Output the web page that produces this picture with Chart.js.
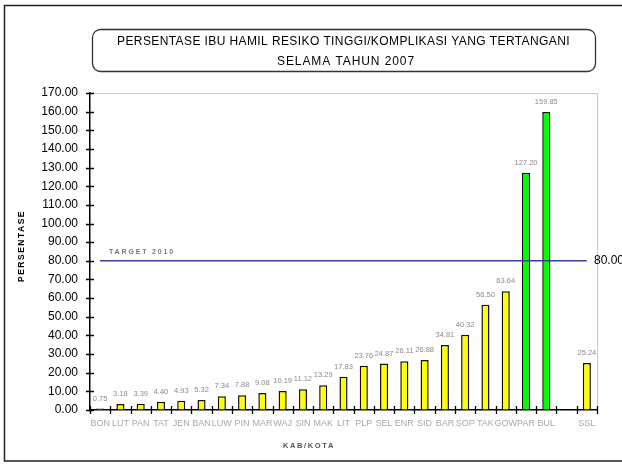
<!DOCTYPE html>
<html>
<head>
<meta charset="utf-8">
<script src="https://cdn.jsdelivr.net/npm/chart.js@4.4.1/dist/chart.umd.min.js"></script>
<style>
  html, body { margin: 0; padding: 0; background: #fff; }
  #wrap { width: 622px; height: 466px; }
</style>
</head>
<body>
<div id="wrap"><canvas id="chart" width="622" height="466"></canvas></div>
<script>
// data
var kabKota = ['BON', 'LUT', 'PAN', 'TAT', 'JEN', 'BAN', 'LUW', 'PIN', 'MAR', 'WAJ', 'SIN', 'MAK', 'LIT',
               'PLP', 'SEL', 'ENR', 'SID', 'BAR', 'SOP', 'TAK', 'GOW', 'PAR', 'BUL', '', 'SSL'];
var persentase = [0.75, 3.18, 3.39, 4.40, 4.93, 5.32, 7.34, 7.88, 9.08, 10.19, 11.12, 13.29, 17.83,
                  23.76, 24.87, 26.11, 26.88, 34.81, 40.32, 56.50, 63.64, 127.20, 159.85, null, 25.24];
var TARGET = 80;
var targetLabel = 'TARGET 2010';
var titleLines = ['PERSENTASE IBU HAMIL RESIKO TINGGI/KOMPLIKASI YANG TERTANGANI', 'SELAMA TAHUN 2007'];

var FONT = '"Liberation Sans", Arial, sans-serif';

// bars above target are green, rest yellow
var barColors = persentase.map(function(v) { return v !== null && v > TARGET ? '#00ff00' : '#ffff00'; });

function drawSpaced(ctx, text, x, y, width) {
    ctx.letterSpacing = '0px';
    var w = ctx.measureText(text).width;
    var sp = width ? (width - w) / text.length : 0;
    ctx.letterSpacing = sp + 'px';
    ctx.fillText(text, x, y);
    ctx.letterSpacing = '0px';
}

var decor = {
    id: 'decor',
    beforeDraw: function(chart) {
        var ctx = chart.ctx;
        ctx.save();
        ctx.fillStyle = '#fff';
        ctx.fillRect(0, 0, chart.width, chart.height);
        ctx.strokeStyle = '#222';
        ctx.lineWidth = 1.5;
        ctx.strokeRect(4.5, 5.5, 700, 455.5);
        ctx.restore();
    },
    beforeDatasetsDraw: function(chart) {
        var ctx = chart.ctx, a = chart.chartArea;
        ctx.save();
        // light frame on top and right of plot
        ctx.strokeStyle = '#c8c8c8';
        ctx.lineWidth = 1;
        ctx.beginPath();
        ctx.moveTo(a.left, a.top + 0.5);
        ctx.lineTo(a.right + 0.5, a.top + 0.5);
        ctx.lineTo(a.right + 0.5, a.bottom);
        ctx.stroke();
        ctx.restore();
    },
    afterDraw: function(chart) {
        var ctx = chart.ctx, a = chart.chartArea;
        var xs = chart.scales.x, ys = chart.scales.y;
        ctx.save();

        // title box
        ctx.strokeStyle = '#333';
        ctx.lineWidth = 1.3;
        ctx.beginPath();
        ctx.roundRect(92.5, 29.5, 503, 42, 8);
        ctx.stroke();
        ctx.fillStyle = '#000';
        ctx.font = '12px ' + FONT;
        ctx.textBaseline = 'middle';
        ctx.textAlign = 'left';
        drawSpaced(ctx, titleLines[0], 117, 42, 453);
        drawSpaced(ctx, titleLines[1], 277, 62, 138);

        // ticks crossing the axes
        ctx.strokeStyle = '#000';
        ctx.lineWidth = 1.3;
        ctx.beginPath();
        ys.ticks.forEach(function(t) {
            var y = Math.round(ys.getPixelForValue(t.value)) + 0.5;
            ctx.moveTo(a.left - 4, y);
            ctx.lineTo(a.left + 4, y);
        });
        var cw = xs.width / kabKota.length;
        for (var i = 0; i <= kabKota.length; i++) {
            var x = Math.round(xs.getPixelForValue(0) - cw / 2 + i * cw) + 0.5;
            ctx.moveTo(x, a.bottom - 4);
            ctx.lineTo(x, a.bottom + 4);
        }
        ctx.stroke();

        // value labels
        var meta = chart.getDatasetMeta(0);
        ctx.fillStyle = '#8a8a8a';
        ctx.font = '7.5px ' + FONT;
        ctx.textAlign = 'center';
        meta.data.forEach(function(bar, i) {
            if (persentase[i] === null) return;
            ctx.fillText(persentase[i].toFixed(2), bar.x, bar.y - 10);
        });

        // target annotation
        var ty = ys.getPixelForValue(TARGET);
        ctx.fillStyle = '#777';
        ctx.font = 'bold 7px ' + FONT;
        ctx.textAlign = 'left';
        drawSpaced(ctx, targetLabel, 109, ty - 9, 66);
        ctx.fillStyle = '#000';
        ctx.font = '12px ' + FONT;
        ctx.fillText(TARGET.toFixed(2), 594, ty);

        // axis titles
        ctx.fillStyle = '#000';
        ctx.font = 'bold 8.5px ' + FONT;
        ctx.save();
        ctx.translate(22, 246);
        ctx.rotate(-Math.PI / 2);
        ctx.textAlign = 'left';
        drawSpaced(ctx, 'PERSENTASE', -36, 0, 72);
        ctx.restore();
        ctx.fillStyle = '#555';
        ctx.font = 'bold 7.5px ' + FONT;
        drawSpaced(ctx, 'KAB/KOTA', 283, 446, 52);

        ctx.restore();
    }
};

new Chart(document.getElementById('chart'), {
    data: {
        labels: kabKota,
        datasets: [{
            type: 'bar',
            data: persentase,
            backgroundColor: barColors,
            borderColor: '#111',
            borderWidth: 1.5,
            categoryPercentage: 1,
            barPercentage: 0.4,
            order: 1
        }, {
            type: 'line',
            data: kabKota.map(function() { return TARGET; }),
            borderColor: '#3c3c9a',
            borderWidth: 1.6,
            pointRadius: 0,
            fill: false,
            order: 0
        }]
    },
    options: {
        responsive: false,
        animation: false,
        layout: { padding: { left: 30, right: 25, top: 93, bottom: 0 } },
        plugins: {
            legend: { display: false },
            tooltip: { enabled: false },
            title: { display: false }
        },
        scales: {
            x: {
                offset: true,
                grid: { display: true, drawOnChartArea: false, drawTicks: false, offset: true },
                border: { display: true, color: '#000', width: 1.5 },
                ticks: {
                    autoSkip: false, maxRotation: 0, minRotation: 0, padding: 8,
                    color: '#a8a8a8', font: { family: FONT, size: 9 }
                },
                afterFit: function(scale) { scale.height = 56; }
            },
            y: {
                min: 0,
                max: 170,
                grid: { display: true, drawOnChartArea: false, drawTicks: false },
                border: { display: true, color: '#000', width: 1.5 },
                ticks: {
                    stepSize: 10, padding: 12, color: '#000',
                    font: { family: FONT, size: 12 },
                    callback: function(v) { return v.toFixed(2); }
                },
                afterFit: function(scale) { scale.width = 60; }
            }
        }
    },
    plugins: [decor]
});
</script>
</body>
</html>
